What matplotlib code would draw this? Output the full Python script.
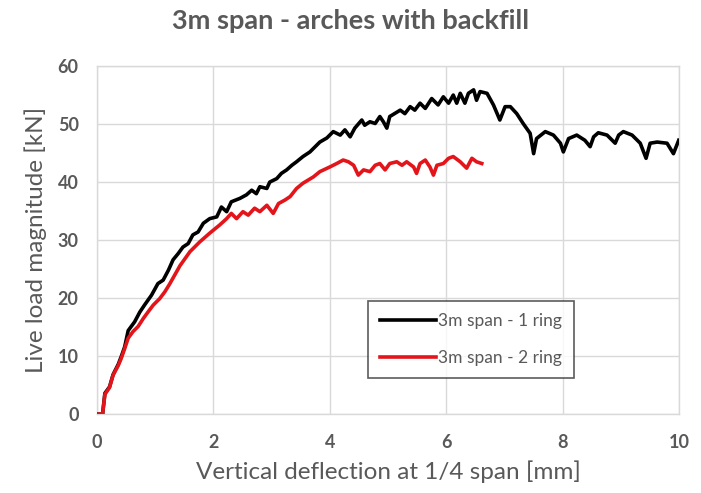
import matplotlib
matplotlib.use("Agg")
import matplotlib.pyplot as plt

plt.rcParams['font.family'] = ['Lato', 'DejaVu Sans']

title = "3m span - arches with backfill"
xlabel = "Vertical deflection at 1/4 span [mm]"
ylabel = "Live load magnitude [kN]"
series_names = ["3m span - 1 ring", "3m span - 2 ring"]
xticks = [0, 2, 4, 6, 8, 10]
yticks = [0, 10, 20, 30, 40, 50, 60]

ring1_x = [0.0, 0.1, 0.14, 0.22, 0.28, 0.37, 0.42, 0.48, 0.54, 0.65, 0.74, 0.82, 0.94, 1.05, 1.14,
           1.23, 1.31, 1.40, 1.48, 1.57, 1.65, 1.74, 1.83, 1.94, 2.06, 2.14, 2.23, 2.31, 2.46,
           2.57, 2.66, 2.74, 2.80, 2.92, 2.97, 3.09, 3.17, 3.26, 3.35, 3.43, 3.54, 3.66, 3.75,
           3.83, 3.95, 4.06, 4.18, 4.26, 4.35, 4.43, 4.55, 4.60, 4.69, 4.78, 4.86, 4.92, 4.98,
           5.03, 5.21, 5.29, 5.38, 5.46, 5.55, 5.64, 5.75, 5.86, 5.95, 6.04, 6.12, 6.18, 6.24,
           6.32, 6.38, 6.47, 6.52, 6.58, 6.70, 6.81, 6.92, 7.01, 7.10, 7.21, 7.32, 7.44, 7.50,
           7.55, 7.70, 7.84, 7.96, 8.01, 8.10, 8.24, 8.38, 8.47, 8.53, 8.61, 8.76, 8.90, 8.96,
           9.04, 9.19, 9.33, 9.43, 9.50, 9.62, 9.79, 9.90, 9.99]
ring1_y = [0.0, 0.0, 3.6, 4.7, 6.8, 8.6, 9.9, 11.6, 14.4, 15.9, 17.6, 18.8, 20.5, 22.5, 23.1,
           24.8, 26.6, 27.7, 28.8, 29.4, 30.9, 31.4, 32.9, 33.7, 34.0, 35.7, 34.9, 36.6, 37.2,
           37.8, 38.6, 38.0, 39.2, 38.9, 40.0, 40.6, 41.5, 42.1, 42.9, 43.5, 44.4, 45.2, 46.1,
           46.9, 47.6, 48.7, 48.1, 49.0, 47.8, 49.3, 50.7, 49.8, 50.4, 50.1, 51.3, 50.4, 49.3,
           51.3, 52.4, 51.8, 53.0, 52.4, 53.6, 52.7, 54.4, 53.3, 54.7, 53.6, 55.0, 53.6, 55.3,
           53.6, 55.3, 55.9, 54.1, 55.6, 55.3, 53.3, 50.7, 53.0, 53.0, 51.8, 50.1, 48.4, 44.9,
           47.5, 48.7, 48.1, 46.7, 45.2, 47.5, 48.1, 47.2, 46.1, 47.8, 48.5, 48.1, 46.7, 48.1,
           48.7, 48.1, 46.7, 44.1, 46.7, 46.9, 46.7, 44.9, 47.2]

ring2_x = [0.0, 0.1, 0.14, 0.22, 0.28, 0.37, 0.42, 0.48, 0.54, 0.62, 0.71, 0.80, 0.88, 0.97,
           1.08, 1.17, 1.25, 1.43, 1.60, 1.77, 1.94, 2.11, 2.23, 2.31, 2.40, 2.51, 2.60, 2.71,
           2.80, 2.92, 3.03, 3.12, 3.23, 3.32, 3.43, 3.54, 3.72, 3.83, 4.00, 4.12, 4.23, 4.32,
           4.41, 4.49, 4.58, 4.69, 4.78, 4.86, 4.95, 5.03, 5.15, 5.24, 5.32, 5.44, 5.49, 5.55,
           5.64, 5.72, 5.78, 5.84, 5.95, 6.04, 6.12, 6.24, 6.35, 6.44, 6.52, 6.61]
ring2_y = [0.0, 0.0, 3.4, 4.6, 6.7, 8.4, 9.6, 11.3, 13.1, 14.2, 15.1, 16.5, 17.6, 18.8,
           19.9, 21.1, 22.4, 25.6, 28.0, 29.7, 31.2, 32.6, 33.7, 34.6, 33.7, 34.9, 34.3, 35.5,
           34.9, 36.0, 34.6, 36.3, 36.9, 37.5, 38.9, 39.8, 40.9, 41.8, 42.6, 43.2, 43.8, 43.5,
           42.9, 41.2, 42.1, 41.8, 42.9, 43.2, 42.1, 43.2, 43.5, 42.9, 43.5, 42.6, 41.5, 43.2,
           43.8, 42.6, 41.2, 42.9, 43.2, 44.1, 44.4, 43.5, 42.4, 44.1, 43.5, 43.2]

text_color = "#595959"
grid_color = "#d9d9d9"

fig = plt.figure(figsize=(7.01, 4.93), dpi=100)
ax = fig.add_axes([0.138, 0.160, 0.831, 0.706])

ax.plot(ring1_x, ring1_y, color="black", lw=2.6, solid_joinstyle="round", label=series_names[0], zorder=3)
ax.plot(ring2_x, ring2_y, color="#e3151b", lw=2.6, solid_joinstyle="round", label=series_names[1], zorder=4)

ax.set_xlim(0, 10)
ax.set_ylim(0, 60)
ax.set_xticks(xticks)
ax.set_yticks(yticks)
ax.grid(True, color=grid_color, lw=1.0)
ax.set_axisbelow(True)
for s in ax.spines.values():
    s.set_color(grid_color)
    s.set_linewidth(1.0)
ax.tick_params(length=0, colors=text_color, labelsize=13)
ax.tick_params(axis="x", pad=14)
ax.tick_params(axis="y", pad=13)
for lab in ax.get_xticklabels() + ax.get_yticklabels():
    lab.set_fontweight("bold")

ax.set_xlabel(xlabel, fontsize=17.5, color=text_color, labelpad=7)
ax.set_ylabel(ylabel, fontsize=17.5, color=text_color, labelpad=8)
fig.suptitle(title, x=0.5, y=0.982, fontsize=19.5, fontweight="bold", color=text_color)

leg = ax.legend(loc="lower left", bbox_to_anchor=(0.466, 0.103), borderaxespad=0,
                fontsize=12.5, frameon=True, fancybox=False, handlelength=3.2,
                handletextpad=0.1, labelspacing=1.2, borderpad=0.7)
leg.get_frame().set_edgecolor("#333333")
leg.get_frame().set_linewidth(1.2)
for t in leg.get_texts():
    t.set_color(text_color)

fig.savefig("out.png", dpi=100)
